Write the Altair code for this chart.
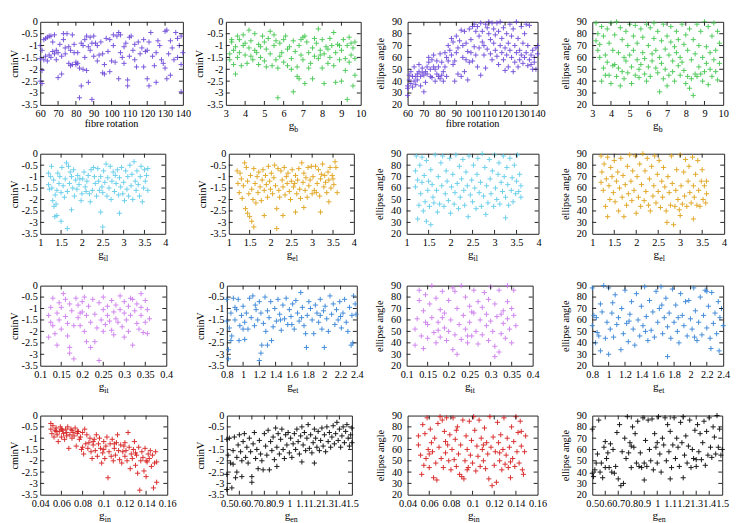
import altair as alt
import pandas as pd

FONT = "'Liberation Serif', 'Times New Roman', Times, 'DejaVu Serif', serif"
FRAME = "#222222"
PLUS = "M-1,0L1,0M0,-1L0,1"

# ---------------- tick values ----------------
CMIN_TICKS = [0, -0.5, -1, -1.5, -2, -2.5, -3, -3.5]
ELL_TICKS = [20, 30, 40, 50, 60, 70, 80, 90]
FIBRE_TICKS = [60, 70, 80, 90, 100, 110, 120, 130, 140]
GB_TICKS = [3, 4, 5, 6, 7, 8, 9, 10]
GIL_TICKS = [1, 1.5, 2, 2.5, 3, 3.5, 4]
GEL_TICKS = [1, 1.5, 2, 2.5, 3, 3.5, 4]
GIT_TICKS = [0.1, 0.15, 0.2, 0.25, 0.3, 0.35, 0.4]
GET_TICKS = [0.8, 1, 1.2, 1.4, 1.6, 1.8, 2, 2.2, 2.4]
GIN_TICKS = [0.04, 0.06, 0.08, 0.1, 0.12, 0.14, 0.16]
GEN_TICKS = [0.5, 0.6, 0.7, 0.8, 0.9, 1, 1.1, 1.2, 1.3, 1.4, 1.5]

# ---------------- colours ----------------
PURPLE = "#6a45d8"
GREEN = "#3ec64c"
CYAN = "#5ccbea"
ORANGE = "#dfa012"
VIOLET = "#cc78ee"
BLUE = "#2f80d5"
RED = "#d61a1a"
BLACK = "#000000"

# ---------------- data ----------------
fibre_cmin = [(60,-1.0),(60,-1.55),(60,-2.5),(61,-2.6),(61,-2.05),(61,-1.2),(62,-0.75),(62,-1.6),(63,-0.7),(63,-1.45),(64,-1.65),(64,-0.65),(65,-0.6),(65,-1.4),(66,-1.5),(66,-0.6),(67,-0.85),(67,-1.25),(68,-0.55),(68,-1.35),(69,-1.2),(69,-1.6),(70,-2.35),(70,-1.3),(71,-0.95),(72,-1.45),(72,-2.2),(73,-0.5),(73,-0.75),(74,-1.1),(74,-1.35),(75,-0.5),(76,-1.05),(76,-1.75),(77,-1.85),(77,-1.2),(78,-0.55),(78,-1.8),(79,-0.95),(79,-1.3),(80,-1.7),(80,-1.8),(81,-1.75),(81,-1.3),(82,-3.2),(82,-1.95),(83,-2.7),(83,-0.9),(84,-2.0),(84,-1.0),(85,-0.75),(85,-1.5),(86,-0.6),(86,-2.05),(87,-2.55),(87,-1.05),(88,-0.65),(88,-1.2),(89,-3.27),(89,-0.9),(90,-0.6),(90,-1.45),(91,-0.9),(92,-1.0),(92,-1.65),(93,-1.4),(94,-0.85),(95,-2.15),(95,-1.35),(96,-2.2),(96,-1.8),(97,-0.7),(98,-1.25),(99,-0.75),(99,-2.1),(100,-1.65),(101,-0.55),(101,-1.0),(102,-1.7),(103,-0.6),(104,-0.45),(104,-2.4),(105,-0.55),(105,-1.3),(106,-1.5),(107,-1.05),(107,-1.75),(108,-0.9),(109,-2.45),(109,-2.7),(110,-0.65),(110,-1.45),(111,-0.6),(112,-1.2),(113,-0.95),(113,-1.6),(114,-1.9),(115,-0.85),(116,-1.35),(117,-1.1),(118,-1.9),(118,-0.75),(119,-1.25),(120,-2.4),(120,-1.2),(121,-2.7),(121,-0.85),(122,-0.45),(123,-1.45),(124,-1.85),(125,-2.55),(125,-1.3),(126,-0.8),(127,-1.0),(128,-1.6),(129,-1.75),(130,-0.4),(130,-1.95),(131,-0.35),(131,-2.4),(132,-1.35),(133,-2.25),(133,-0.8),(134,-1.1),(135,-1.6),(136,-0.45),(137,-0.7),(137,-1.5),(138,-1.0),(139,-0.6),(139,-1.8),(139,-2.95),(140,-1.3)]

gb_cmin = [(3.2,-1.35),(3.2,-1.6),(3.3,-0.75),(3.3,-0.85),(3.4,-1.8),(3.4,-1.2),(3.5,-2.2),(3.5,-1.05),(3.6,-0.6),(3.6,-1.5),(3.7,-0.75),(3.7,-1.3),(3.8,-1.85),(3.9,-0.55),(3.9,-1.0),(4.0,-1.4),(4.0,-0.9),(4.1,-1.75),(4.2,-0.35),(4.2,-1.1),(4.3,-0.8),(4.3,-1.45),(4.4,-1.6),(4.5,-0.5),(4.5,-1.2),(4.6,-1.3),(4.7,-0.95),(4.7,-1.8),(4.8,-1.5),(4.8,-1.05),(4.9,-0.6),(5.0,-0.85),(5.0,-1.65),(5.1,-1.15),(5.1,-1.9),(5.2,-0.7),(5.3,-0.4),(5.3,-1.35),(5.4,-1.85),(5.5,-0.55),(5.5,-1.0),(5.6,-1.6),(5.6,-0.8),(5.7,-3.2),(5.7,-1.95),(5.8,-0.9),(5.8,-1.45),(5.9,-1.3),(6.0,-1.7),(6.0,-0.75),(6.1,-0.6),(6.2,-1.85),(6.2,-1.15),(6.3,-1.05),(6.4,-1.55),(6.4,-2.0),(6.5,-2.95),(6.5,-0.8),(6.6,-1.25),(6.7,-2.3),(6.7,-1.9),(6.8,-2.4),(6.8,-1.0),(6.9,-1.4),(6.9,-0.75),(7.0,-0.65),(7.0,-1.6),(7.1,-2.6),(7.1,-0.6),(7.2,-0.85),(7.3,-1.3),(7.3,-1.95),(7.4,-1.75),(7.5,-2.4),(7.5,-1.1),(7.6,-1.45),(7.6,-0.7),(7.7,-0.9),(7.8,-0.3),(7.8,-1.55),(7.9,-1.2),(7.9,-1.4),(8.0,-0.75),(8.0,-1.95),(8.1,-2.6),(8.1,-1.35),(8.2,-1.05),(8.3,-1.75),(8.3,-1.15),(8.4,-0.7),(8.4,-1.5),(8.5,-1.0),(8.6,-0.45),(8.6,-1.85),(8.7,-2.55),(8.7,-1.3),(8.8,-0.95),(8.9,-1.6),(8.9,-1.0),(9.0,-2.5),(9.0,-1.2),(9.1,-0.75),(9.2,-2.05),(9.2,-1.55),(9.3,-3.27),(9.3,-1.0),(9.4,-0.65),(9.4,-1.7),(9.5,-1.4),(9.5,-0.9),(9.6,-2.7),(9.6,-1.1),(9.7,-2.25),(9.7,-1.55),(9.7,-0.85)]

fibre_ell = [(60,28),(60,34),(60,36),(61,41),(61,45),(62,48),(62,38),(63,35),(63,44),(64,52),(64,40),(65,44),(65,37),(66,46),(66,41),(67,54),(67,48),(68,44),(68,36),(69,47),(69,51),(70,31),(70,45),(71,48),(71,39),(72,46),(72,52),(73,56),(73,60),(74,44),(74,50),(75,58),(75,43),(76,62),(76,52),(77,50),(77,40),(78,57),(78,46),(79,52),(79,44),(80,42),(80,63),(81,45),(81,56),(82,40),(82,48),(83,64),(83,52),(84,60),(84,44),(85,70),(85,57),(86,66),(87,76),(87,62),(88,54),(88,73),(89,57),(89,40),(90,64),(90,78),(91,68),(91,46),(92,74),(93,83),(93,44),(94,60),(94,70),(95,82),(95,48),(96,58),(96,72),(97,41),(97,65),(98,56),(98,84),(99,75),(99,64),(100,86),(100,57),(101,88),(101,69),(102,82),(102,62),(103,52),(103,86),(104,78),(104,68),(105,45),(105,89),(106,82),(106,73),(107,62),(107,70),(108,88),(108,51),(109,85),(109,67),(110,80),(110,90),(111,75),(111,63),(112,89),(112,58),(113,84),(113,72),(114,79),(114,66),(115,89),(115,61),(116,82),(116,54),(117,90),(117,70),(118,76),(118,64),(119,85),(119,58),(120,49),(120,68),(121,80),(121,62),(122,72),(122,52),(123,88),(123,66),(124,60),(124,78),(125,48),(125,84),(126,70),(126,56),(127,90),(127,64),(128,76),(128,52),(129,66),(129,58),(130,86),(130,62),(131,72),(131,55),(132,80),(132,60),(133,64),(133,88),(134,53),(134,70),(135,58),(135,87),(136,54),(136,62),(137,66),(137,50),(138,60),(138,56),(139,50),(139,68),(140,70),(140,63)]

gb_ell = [(3.2,74),(3.2,89),(3.3,66),(3.3,80),(3.4,60),(3.4,71),(3.5,40),(3.5,86),(3.6,51),(3.6,78),(3.7,45),(3.7,62),(3.8,84),(3.8,56),(3.9,45),(3.9,72),(4.0,38),(4.0,89),(4.1,53),(4.1,66),(4.2,54),(4.2,79),(4.3,44),(4.3,90),(4.4,64),(4.4,51),(4.5,36),(4.5,85),(4.6,75),(4.6,48),(4.7,42),(4.7,60),(4.8,82),(4.8,57),(4.9,70),(4.9,47),(5.0,88),(5.0,62),(5.1,52),(5.1,38),(5.2,78),(5.2,66),(5.3,45),(5.3,87),(5.4,58),(5.4,72),(5.5,50),(5.5,43),(5.6,84),(5.6,54),(5.7,64),(5.7,77),(5.8,46),(5.8,59),(5.9,88),(5.9,40),(6.0,70),(6.0,52),(6.1,85),(6.1,44),(6.2,63),(6.2,57),(6.3,76),(6.3,89),(6.4,51),(6.4,66),(6.5,82),(6.5,47),(6.6,31),(6.6,60),(6.7,74),(6.7,55),(6.8,88),(6.8,42),(6.9,67),(6.9,50),(7.0,36),(7.0,78),(7.1,62),(7.1,45),(7.2,73),(7.2,86),(7.3,57),(7.3,48),(7.4,69),(7.4,40),(7.5,64),(7.5,82),(7.6,53),(7.6,75),(7.7,60),(7.7,45),(7.8,88),(7.8,56),(7.9,71),(7.9,49),(8.0,79),(8.0,38),(8.1,44),(8.1,66),(8.2,34),(8.2,84),(8.3,58),(8.3,42),(8.4,28),(8.4,75),(8.5,46),(8.5,63),(8.6,88),(8.6,44),(8.7,52),(8.7,70),(8.8,46),(8.8,82),(8.9,60),(8.9,40),(9.0,90),(9.0,48),(9.1,69),(9.1,55),(9.2,37),(9.2,86),(9.3,64),(9.3,50),(9.4,78),(9.4,44),(9.5,58),(9.5,89),(9.6,66),(9.6,48),(9.7,82),(9.7,41),(9.8,72),(9.8,55)]

gil_cmin = [(1.2,-1.35),(1.2,-0.85),(1.22,-1.55),(1.25,-1.0),(1.27,-0.55),(1.28,-1.5),(1.3,-2.05),(1.32,-1.15),(1.33,-2.3),(1.35,-2.75),(1.36,-1.8),(1.38,-2.2),(1.4,-2.7),(1.4,-1.6),(1.42,-0.85),(1.45,-1.3),(1.47,-1.0),(1.5,-2.95),(1.5,-1.7),(1.52,-0.6),(1.55,-1.4),(1.58,-1.9),(1.6,-1.1),(1.63,-0.4),(1.65,-3.27),(1.65,-1.65),(1.68,-0.55),(1.7,-1.3),(1.72,-0.8),(1.75,-2.45),(1.75,-1.0),(1.78,-1.5),(1.8,-0.7),(1.82,-1.85),(1.85,-1.15),(1.88,-1.55),(1.9,-0.95),(1.93,-1.35),(1.95,-1.1),(1.98,-2.05),(2.0,-1.75),(2.02,-1.1),(2.05,-0.8),(2.08,-1.45),(2.1,-1.65),(2.12,-1.2),(2.15,-0.95),(2.18,-1.75),(2.2,-2.1),(2.22,-0.7),(2.25,-1.6),(2.28,-0.6),(2.3,-1.0),(2.32,-1.3),(2.35,-1.85),(2.38,-0.65),(2.4,-1.2),(2.42,-1.6),(2.45,-2.55),(2.45,-1.0),(2.48,-1.45),(2.5,-3.2),(2.5,-1.7),(2.52,-0.75),(2.55,-1.25),(2.58,-0.45),(2.6,-1.85),(2.62,-1.05),(2.65,-1.5),(2.68,-0.55),(2.7,-2.0),(2.72,-1.2),(2.75,-0.8),(2.78,-1.65),(2.8,-0.95),(2.82,-1.3),(2.85,-0.7),(2.88,-1.8),(2.9,-2.6),(2.9,-1.05),(2.93,-1.45),(2.95,-0.6),(2.98,-1.75),(3.0,-1.25),(3.02,-2.05),(3.05,-0.75),(3.08,-1.55),(3.1,-1.0),(3.12,-1.85),(3.15,-0.5),(3.18,-1.4),(3.2,-0.9),(3.22,-2.0),(3.25,-0.35),(3.28,-1.2),(3.3,-1.6),(3.32,-0.75),(3.35,-1.35),(3.38,-1.85),(3.4,-1.0),(3.42,-0.55),(3.45,-2.1),(3.48,-1.5),(3.5,-0.7),(3.52,-1.2),(3.55,-0.95),(3.58,-0.65),(3.58,-1.6)]

gel_cmin = [(1.2,-0.75),(1.22,-1.3),(1.25,-1.7),(1.27,-0.85),(1.3,-1.1),(1.32,-1.95),(1.35,-1.4),(1.38,-0.4),(1.4,-2.4),(1.42,-0.6),(1.45,-2.6),(1.45,-1.2),(1.48,-1.75),(1.5,-2.75),(1.52,-0.95),(1.55,-2.95),(1.55,-1.55),(1.58,-2.0),(1.6,-3.2),(1.6,-0.65),(1.63,-1.3),(1.65,-2.15),(1.68,-1.0),(1.7,-1.7),(1.72,-0.8),(1.75,-1.45),(1.78,-2.05),(1.8,-1.15),(1.82,-0.7),(1.85,-2.7),(1.85,-1.6),(1.88,-0.95),(1.9,-1.35),(1.93,-1.9),(1.95,-0.55),(1.98,-1.2),(2.0,-1.55),(2.02,-0.85),(2.05,-1.75),(2.08,-1.05),(2.1,-0.5),(2.12,-1.4),(2.15,-3.27),(2.15,-2.4),(2.18,-0.65),(2.2,-1.6),(2.22,-1.9),(2.25,-0.75),(2.28,-1.15),(2.3,-2.7),(2.3,-1.45),(2.33,-0.6),(2.35,-1.8),(2.38,-1.0),(2.4,-1.3),(2.42,-0.85),(2.45,-1.65),(2.48,-2.0),(2.5,-1.2),(2.52,-0.7),(2.55,-1.45),(2.58,-1.3),(2.6,-2.55),(2.6,-0.95),(2.63,-1.75),(2.65,-1.15),(2.68,-0.65),(2.7,-1.55),(2.72,-1.95),(2.75,-0.4),(2.78,-1.25),(2.8,-2.35),(2.8,-0.85),(2.83,-1.6),(2.85,-1.05),(2.88,-1.9),(2.9,-0.6),(2.92,-1.4),(2.95,-1.15),(2.98,-0.55),(3.0,-1.75),(3.02,-1.0),(3.05,-1.6),(3.08,-0.55),(3.1,-1.7),(3.12,-1.3),(3.15,-0.7),(3.18,-1.85),(3.2,-2.55),(3.2,-1.1),(3.22,-0.9),(3.25,-0.45),(3.28,-1.45),(3.3,-0.95),(3.32,-1.25),(3.35,-1.7),(3.38,-0.8),(3.4,-2.1),(3.4,-1.15),(3.43,-0.6),(3.45,-1.5),(3.48,-0.95),(3.5,-1.1),(3.52,-1.35),(3.55,-0.35),(3.57,-0.6),(3.6,-1.7)]

gil_ell = [(1.2,61),(1.2,75),(1.22,88),(1.25,67),(1.25,33),(1.28,45),(1.3,80),(1.32,55),(1.35,65),(1.35,87),(1.38,40),(1.4,71),(1.42,48),(1.45,31),(1.45,84),(1.48,58),(1.5,66),(1.52,44),(1.55,28),(1.55,76),(1.58,63),(1.6,52),(1.62,47),(1.65,89),(1.68,58),(1.7,39),(1.72,70),(1.75,46),(1.78,82),(1.8,62),(1.82,88),(1.85,44),(1.88,55),(1.9,75),(1.92,66),(1.95,49),(1.98,86),(2.0,38),(2.02,61),(2.05,72),(2.08,46),(2.1,56),(2.12,89),(2.15,64),(2.18,42),(2.2,79),(2.22,52),(2.25,68),(2.28,85),(2.3,58),(2.32,45),(2.35,74),(2.38,62),(2.4,35),(2.42,88),(2.45,54),(2.48,67),(2.5,48),(2.52,80),(2.55,60),(2.58,42),(2.6,72),(2.62,86),(2.65,56),(2.68,65),(2.7,44),(2.72,90),(2.75,53),(2.78,78),(2.8,37),(2.82,62),(2.85,47),(2.88,85),(2.9,68),(2.92,55),(2.95,75),(2.98,44),(3.0,89),(3.02,60),(3.05,50),(3.08,72),(3.1,82),(3.12,46),(3.15,65),(3.18,57),(3.2,88),(3.22,70),(3.25,34),(3.25,52),(3.28,78),(3.3,63),(3.32,45),(3.35,86),(3.38,58),(3.4,69),(3.42,48),(3.45,80),(3.48,55),(3.5,66),(3.52,89),(3.55,57),(3.57,72),(3.6,52),(3.6,62)]

gel_ell = [(1.2,88),(1.2,65),(1.22,74),(1.25,58),(1.27,81),(1.3,44),(1.32,68),(1.35,35),(1.35,87),(1.38,62),(1.4,50),(1.42,78),(1.45,70),(1.48,56),(1.5,84),(1.52,48),(1.55,66),(1.58,74),(1.6,40),(1.62,60),(1.65,86),(1.68,52),(1.7,71),(1.72,35),(1.75,63),(1.78,45),(1.8,79),(1.82,55),(1.85,89),(1.88,66),(1.9,49),(1.92,75),(1.95,58),(1.98,88),(2.0,38),(2.02,70),(2.05,52),(2.08,81),(2.1,44),(2.12,63),(2.15,90),(2.18,49),(2.2,75),(2.22,57),(2.25,86),(2.28,45),(2.3,68),(2.32,40),(2.35,79),(2.38,53),(2.4,62),(2.42,88),(2.45,47),(2.48,72),(2.5,57),(2.52,84),(2.55,43),(2.58,66),(2.6,52),(2.62,78),(2.65,61),(2.68,40),(2.7,30),(2.72,70),(2.75,56),(2.78,45),(2.8,88),(2.82,64),(2.85,28),(2.88,44),(2.9,58),(2.92,76),(2.95,50),(2.98,41),(3.0,36),(3.0,89),(3.02,62),(3.05,46),(3.08,74),(3.1,53),(3.12,85),(3.15,44),(3.18,66),(3.2,79),(3.22,56),(3.25,47),(3.28,87),(3.3,33),(3.3,62),(3.32,52),(3.35,72),(3.38,45),(3.4,84),(3.42,58),(3.45,44),(3.48,66),(3.5,76),(3.52,50),(3.55,62),(3.58,47),(3.6,55),(3.6,66)]

git_cmin = [(0.12,-2.25),(0.12,-1.3),(0.125,-0.95),(0.125,-1.6),(0.13,-1.75),(0.13,-0.55),(0.135,-2.1),(0.14,-1.2),(0.14,-2.6),(0.145,-1.5),(0.145,-0.75),(0.15,-1.9),(0.15,-0.95),(0.155,-0.35),(0.16,-1.35),(0.16,-0.6),(0.165,-1.65),(0.165,-2.2),(0.17,-2.95),(0.17,-0.8),(0.17,-2.7),(0.175,-1.1),(0.18,-3.2),(0.18,-1.75),(0.185,-0.55),(0.19,-1.4),(0.19,-0.85),(0.195,-1.75),(0.195,-1.2),(0.2,-1.15),(0.2,-0.7),(0.205,-2.0),(0.205,-0.5),(0.21,-2.45),(0.21,-1.3),(0.215,-0.9),(0.22,-1.6),(0.22,-2.7),(0.225,-0.6),(0.23,-2.45),(0.23,-1.25),(0.235,-1.85),(0.24,-3.27),(0.24,-0.75),(0.245,-1.5),(0.25,-1.05),(0.25,-0.5),(0.25,-2.0),(0.255,-1.7),(0.26,-1.3),(0.26,-0.9),(0.265,-1.55),(0.27,-0.65),(0.27,-1.95),(0.275,-1.15),(0.275,-2.15),(0.28,-1.45),(0.28,-0.85),(0.285,-1.6),(0.29,-0.45),(0.29,-1.05),(0.295,-1.8),(0.3,-1.2),(0.3,-0.7),(0.3,-2.25),(0.305,-1.5),(0.31,-0.9),(0.31,-2.0),(0.315,-1.3),(0.315,-0.55),(0.32,-2.6),(0.32,-0.6),(0.325,-1.1),(0.33,-1.65),(0.33,-0.8),(0.335,-1.9),(0.34,-0.35),(0.34,-1.3),(0.34,-0.95),(0.345,-2.05),(0.35,-0.65),(0.35,-1.6),(0.355,-1.05),(0.355,-2.1),(0.36,-1.45)]

get_cmin = [(0.8,-0.6),(0.8,-1.55),(0.82,-3.2),(0.82,-2.8),(0.83,-1.85),(0.85,-2.4),(0.85,-1.2),(0.86,-2.2),(0.88,-0.55),(0.9,-1.5),(0.9,-0.95),(0.92,-1.05),(0.94,-0.6),(0.95,-2.4),(0.96,-1.75),(0.98,-1.3),(1.0,-0.9),(1.0,-1.9),(1.02,-2.35),(1.02,-1.6),(1.04,-1.2),(1.06,-1.9),(1.08,-0.55),(1.1,-1.4),(1.12,-0.45),(1.14,-1.75),(1.15,-0.85),(1.16,-1.05),(1.18,-1.5),(1.2,-3.27),(1.2,-0.7),(1.22,-2.95),(1.22,-1.2),(1.23,-2.6),(1.25,-1.65),(1.27,-0.5),(1.28,-2.0),(1.3,-2.6),(1.3,-1.1),(1.32,-1.4),(1.34,-0.7),(1.35,-2.4),(1.37,-1.8),(1.39,-1.0),(1.41,-1.55),(1.43,-0.6),(1.45,-1.25),(1.46,-1.5),(1.47,-1.95),(1.49,-0.85),(1.51,-1.45),(1.53,-0.55),(1.55,-1.7),(1.57,-1.05),(1.59,-1.35),(1.6,-1.7),(1.61,-0.8),(1.63,-1.9),(1.65,-0.65),(1.67,-1.2),(1.69,-1.55),(1.71,-0.3),(1.72,-1.4),(1.73,-0.95),(1.75,-1.75),(1.77,-2.1),(1.78,-2.7),(1.79,-1.3),(1.81,-0.7),(1.83,-1.0),(1.85,-1.5),(1.87,-2.1),(1.89,-0.85),(1.91,-1.2),(1.93,-1.6),(1.95,-0.6),(1.95,-1.3),(1.97,-1.9),(1.99,-1.1),(2.0,-2.7),(2.01,-0.9),(2.03,-1.45),(2.05,-2.0),(2.07,-0.45),(2.09,-1.25),(2.11,-0.8),(2.13,-1.7),(2.15,-1.05),(2.17,-1.5),(2.19,-0.7),(2.2,-1.35),(2.21,-1.85),(2.23,-1.2),(2.25,-0.6),(2.27,-1.6),(2.29,-2.0),(2.31,-0.95),(2.33,-2.6),(2.34,-1.3),(2.35,-2.5),(2.36,-0.45),(2.38,-0.8),(2.39,-1.25)]

git_ell = [(0.12,38),(0.12,52),(0.125,61),(0.13,77),(0.13,86),(0.135,46),(0.14,35),(0.14,68),(0.145,82),(0.145,58),(0.15,56),(0.15,44),(0.155,74),(0.16,90),(0.16,62),(0.165,49),(0.17,79),(0.17,40),(0.175,58),(0.175,51),(0.18,69),(0.18,45),(0.185,85),(0.185,62),(0.19,53),(0.19,66),(0.195,42),(0.2,77),(0.2,50),(0.205,60),(0.21,34),(0.21,88),(0.215,47),(0.215,85),(0.22,30),(0.22,70),(0.225,56),(0.23,90),(0.23,43),(0.235,64),(0.24,52),(0.24,80),(0.245,40),(0.245,46),(0.25,72),(0.25,58),(0.255,46),(0.255,67),(0.26,86),(0.26,66),(0.265,50),(0.27,76),(0.27,39),(0.275,60),(0.28,71),(0.28,47),(0.285,84),(0.29,55),(0.29,65),(0.295,42),(0.295,78),(0.3,89),(0.3,59),(0.305,50),(0.31,28),(0.31,37),(0.31,74),(0.315,63),(0.32,32),(0.32,86),(0.325,48),(0.325,65),(0.33,68),(0.33,57),(0.335,44),(0.34,90),(0.34,61),(0.34,76),(0.345,52),(0.35,70),(0.35,40),(0.355,86),(0.355,64),(0.36,55)]

get_ell = [(0.8,88),(0.8,55),(0.82,64),(0.84,40),(0.85,62),(0.86,49),(0.88,46),(0.9,33),(0.9,74),(0.92,67),(0.94,90),(0.96,44),(0.98,58),(1.0,30),(1.0,88),(1.02,52),(1.04,66),(1.05,75),(1.06,45),(1.08,82),(1.1,56),(1.12,62),(1.15,34),(1.16,70),(1.18,48),(1.2,86),(1.22,57),(1.24,41),(1.25,59),(1.26,65),(1.28,76),(1.3,52),(1.32,38),(1.34,83),(1.36,60),(1.38,46),(1.4,72),(1.42,55),(1.44,89),(1.45,50),(1.46,63),(1.48,42),(1.5,77),(1.52,51),(1.54,67),(1.56,45),(1.58,85),(1.6,58),(1.62,70),(1.64,89),(1.65,73),(1.66,48),(1.68,62),(1.7,79),(1.72,28),(1.72,54),(1.74,66),(1.76,44),(1.78,87),(1.8,58),(1.82,73),(1.84,50),(1.85,62),(1.86,40),(1.88,83),(1.9,64),(1.92,55),(1.94,76),(1.96,46),(1.98,77),(2.0,61),(2.02,52),(2.04,88),(2.05,45),(2.06,68),(2.08,42),(2.1,58),(2.12,80),(2.14,47),(2.16,64),(2.18,86),(2.2,53),(2.2,85),(2.22,72),(2.24,44),(2.25,35),(2.26,84),(2.28,57),(2.3,66),(2.32,48),(2.34,76),(2.35,33),(2.36,62),(2.38,70),(2.4,55)]

gin_cmin = [(0.05,-0.35),(0.05,-0.6),(0.051,-0.8),(0.052,-0.45),(0.053,-0.95),(0.054,-0.65),(0.055,-0.55),(0.055,-0.7),(0.056,-0.85),(0.057,-1.15),(0.058,-0.7),(0.059,-0.5),(0.06,-0.95),(0.06,-0.6),(0.061,-0.65),(0.062,-0.8),(0.063,-1.05),(0.064,-0.6),(0.065,-0.75),(0.065,-0.9),(0.066,-0.5),(0.067,-1.45),(0.068,-0.85),(0.069,-0.6),(0.07,-1.0),(0.07,-0.65),(0.071,-0.75),(0.072,-0.9),(0.073,-0.55),(0.074,-1.35),(0.075,-0.8),(0.075,-0.7),(0.076,-0.7),(0.077,-1.05),(0.078,-0.95),(0.079,-1.5),(0.08,-0.75),(0.08,-1.4),(0.081,-1.7),(0.082,-0.6),(0.083,-1.25),(0.084,-0.85),(0.085,-1.45),(0.086,-1.2),(0.087,-1.0),(0.088,-1.6),(0.089,-1.9),(0.09,-1.3),(0.09,-1.15),(0.091,-1.05),(0.092,-1.55),(0.093,-0.85),(0.094,-1.8),(0.095,-1.25),(0.096,-1.0),(0.097,-1.45),(0.098,-2.1),(0.099,-1.65),(0.1,-1.15),(0.1,-1.5),(0.101,-1.9),(0.102,-1.35),(0.103,-0.95),(0.104,-2.75),(0.105,-1.6),(0.106,-1.25),(0.107,-1.8),(0.108,-1.05),(0.109,-2.0),(0.11,-1.45),(0.11,-1.25),(0.111,-1.75),(0.112,-1.2),(0.113,-0.85),(0.114,-1.55),(0.115,-1.95),(0.116,-1.3),(0.117,-2.1),(0.118,-1.6),(0.119,-1.35),(0.12,-1.8),(0.12,-1.2),(0.121,-1.55),(0.122,-2.0),(0.123,-0.75),(0.124,-1.4),(0.125,-2.35),(0.126,-1.7),(0.127,-1.9),(0.128,-1.5),(0.129,-1.15),(0.13,-2.2),(0.13,-1.65),(0.131,-1.75),(0.132,-2.55),(0.133,-1.4),(0.134,-3.3),(0.135,-2.0),(0.136,-1.6),(0.137,-1.85),(0.138,-2.45),(0.139,-1.45),(0.14,-2.7),(0.14,-2.0),(0.141,-2.05),(0.142,-1.7),(0.143,-1.9),(0.144,-1.55),(0.145,-2.25),(0.146,-1.75),(0.147,-3.2),(0.148,-2.1),(0.149,-1.6),(0.15,-2.95),(0.15,-2.05)]

gen_cmin = [(0.5,-1.05),(0.5,-2.6),(0.5,-3.27),(0.51,-1.75),(0.52,-1.0),(0.53,-2.1),(0.54,-3.2),(0.55,-1.55),(0.55,-2.15),(0.56,-0.95),(0.57,-2.75),(0.58,-1.85),(0.58,-2.5),(0.59,-1.3),(0.6,-0.85),(0.61,-1.6),(0.62,-2.0),(0.62,-2.7),(0.63,-1.15),(0.64,-0.8),(0.65,-1.85),(0.66,-1.4),(0.67,-2.1),(0.68,-1.0),(0.69,-1.6),(0.7,-2.7),(0.7,-2.95),(0.71,-1.25),(0.72,-0.75),(0.73,-1.9),(0.74,-1.5),(0.75,-2.35),(0.76,-1.1),(0.77,-1.7),(0.78,-2.0),(0.79,-2.4),(0.8,-0.8),(0.81,-1.35),(0.82,-1.75),(0.83,-0.65),(0.84,-2.4),(0.85,-1.15),(0.86,-1.55),(0.87,-0.95),(0.88,-1.95),(0.89,-0.55),(0.9,-1.4),(0.9,-2.25),(0.91,-0.8),(0.92,-1.7),(0.93,-1.05),(0.94,-0.6),(0.95,-1.5),(0.96,-1.9),(0.97,-0.85),(0.98,-1.3),(0.99,-0.75),(1.0,-1.65),(1.01,-1.0),(1.02,-1.85),(1.03,-1.25),(1.04,-0.8),(1.05,-1.5),(1.06,-0.6),(1.07,-1.15),(1.08,-1.7),(1.09,-0.9),(1.1,-2.05),(1.1,-0.5),(1.11,-1.3),(1.12,-0.75),(1.13,-1.55),(1.14,-1.0),(1.15,-0.4),(1.16,-1.45),(1.17,-0.85),(1.18,-1.65),(1.19,-1.2),(1.2,-2.1),(1.2,-0.6),(1.21,-1.0),(1.22,-1.4),(1.23,-0.7),(1.24,-1.55),(1.25,-1.1),(1.26,-0.55),(1.27,-1.35),(1.28,-0.85),(1.29,-1.6),(1.3,-0.5),(1.31,-1.15),(1.32,-0.75),(1.33,-1.4),(1.34,-0.95),(1.35,-0.45),(1.36,-1.25),(1.37,-0.8),(1.38,-0.3),(1.39,-1.1),(1.4,-0.6),(1.41,-1.4),(1.42,-0.9),(1.43,-0.5),(1.44,-1.2),(1.45,-0.7),(1.46,-0.4),(1.47,-1.0),(1.48,-1.35),(1.49,-0.85),(1.5,-0.55),(1.5,-1.2)]

gin_ell = [(0.05,64),(0.05,72),(0.052,55),(0.053,38),(0.054,82),(0.055,46),(0.056,74),(0.057,52),(0.058,88),(0.059,60),(0.06,44),(0.06,56),(0.061,78),(0.062,66),(0.063,58),(0.064,35),(0.065,70),(0.066,48),(0.067,33),(0.068,83),(0.069,62),(0.07,89),(0.071,52),(0.072,86),(0.073,44),(0.074,76),(0.075,57),(0.075,67),(0.076,88),(0.077,64),(0.078,50),(0.079,73),(0.08,42),(0.081,60),(0.082,88),(0.083,51),(0.084,69),(0.085,45),(0.085,77),(0.086,80),(0.087,56),(0.088,38),(0.089,64),(0.09,36),(0.091,86),(0.092,34),(0.093,50),(0.094,72),(0.095,60),(0.095,42),(0.096,44),(0.097,85),(0.098,55),(0.099,68),(0.1,48),(0.101,89),(0.102,77),(0.103,41),(0.104,63),(0.105,54),(0.106,86),(0.107,45),(0.108,70),(0.109,60),(0.11,50),(0.11,64),(0.111,79),(0.112,43),(0.113,66),(0.114,56),(0.115,34),(0.116,89),(0.117,62),(0.118,28),(0.119,71),(0.12,46),(0.121,58),(0.122,31),(0.123,84),(0.124,66),(0.125,50),(0.125,57),(0.126,73),(0.127,42),(0.128,60),(0.129,88),(0.13,47),(0.131,55),(0.132,70),(0.133,44),(0.134,62),(0.135,35),(0.135,49),(0.136,80),(0.137,52),(0.138,67),(0.139,45),(0.14,89),(0.141,58),(0.142,75),(0.143,48),(0.144,85),(0.145,63),(0.145,76),(0.146,42),(0.147,38),(0.148,58),(0.149,72)]

gen_ell = [(0.5,39),(0.5,78),(0.51,36),(0.52,42),(0.53,48),(0.54,56),(0.55,86),(0.56,40),(0.57,48),(0.58,35),(0.59,62),(0.6,67),(0.6,44),(0.61,52),(0.62,57),(0.63,44),(0.64,65),(0.65,40),(0.66,60),(0.67,39),(0.68,45),(0.69,75),(0.7,34),(0.71,82),(0.72,28),(0.73,58),(0.74,30),(0.75,70),(0.76,52),(0.77,89),(0.78,57),(0.79,66),(0.8,44),(0.8,63),(0.81,80),(0.82,62),(0.83,74),(0.84,48),(0.85,85),(0.86,45),(0.87,57),(0.88,44),(0.89,88),(0.9,33),(0.9,48),(0.91,68),(0.92,45),(0.93,86),(0.94,60),(0.95,50),(0.96,87),(0.97,42),(0.98,74),(0.99,62),(1.0,48),(1.0,66),(1.01,89),(1.02,56),(1.03,40),(1.04,70),(1.05,64),(1.06,88),(1.07,50),(1.08,82),(1.09,58),(1.1,34),(1.1,76),(1.11,44),(1.12,64),(1.13,88),(1.14,52),(1.15,70),(1.16,62),(1.17,45),(1.18,84),(1.19,66),(1.2,35),(1.2,89),(1.21,55),(1.22,72),(1.23,48),(1.24,63),(1.25,86),(1.26,44),(1.27,60),(1.28,52),(1.29,77),(1.3,45),(1.3,51),(1.31,82),(1.32,58),(1.33,74),(1.34,51),(1.35,66),(1.36,85),(1.37,46),(1.38,76),(1.39,55),(1.4,88),(1.41,62),(1.42,53),(1.43,80),(1.44,71),(1.45,56),(1.46,90),(1.47,62),(1.48,78),(1.49,55),(1.5,60)]

TICK = 4
LFS = 10.5
TFS = 10.5


def panel(pts, color, xticks, yticks, xtitle, ytitle, W, H, A, B, T, D):
    ell = ytitle.startswith("ellipse")
    xs = alt.Scale(domain=[min(xticks), max(xticks)], nice=False, zero=False)
    ys = alt.Scale(domain=[min(yticks), max(yticks)], nice=False, zero=False)
    xaxis = alt.Axis(values=xticks, title=None, labelExpr="'' + datum.value", labelPadding=4)
    yaxis = alt.Axis(values=yticks, title=ytitle, labelExpr="'' + datum.value",
                     labelPadding=6 if ell else 3, titlePadding=6 if ell else 2)
    X = alt.X("x:Q", scale=xs, axis=xaxis)
    Y = alt.Y("y:Q", scale=ys, axis=yaxis)
    df = pd.DataFrame(pts, columns=["x", "y"])
    layers = []
    layers.append(
        alt.Chart(df).mark_point(shape=PLUS, filled=False, size=28, strokeWidth=1,
                                 color=color, opacity=0.9).encode(x=X, y=Y)
    )
    xt = pd.DataFrame({"x": xticks[1:-1]})
    yt = pd.DataFrame({"y": sorted(yticks)[1:-1]})
    layers.append(alt.Chart(xt).mark_rule(color=FRAME, strokeWidth=1).encode(
        x=X, y=alt.value(H - TICK), y2=alt.value(H)))
    layers.append(alt.Chart(xt).mark_rule(color=FRAME, strokeWidth=1).encode(
        x=X, y=alt.value(0), y2=alt.value(TICK)))
    layers.append(alt.Chart(yt).mark_rule(color=FRAME, strokeWidth=1).encode(
        y=Y, x=alt.value(0), x2=alt.value(TICK)))
    layers.append(alt.Chart(yt).mark_rule(color=FRAME, strokeWidth=1).encode(
        y=Y, x=alt.value(W - TICK), x2=alt.value(W)))
    # x-axis title (gnuplot style, with subscript)
    if isinstance(xtitle, tuple):
        main, sub = xtitle
        layers.append(alt.Chart(pd.DataFrame({"t": [main]})).mark_text(
            font=FONT, fontSize=11.5, align="right", baseline="middle", color="black").encode(
            x=alt.value(W / 2 + 1), y=alt.value(H + 22), text="t:N"))
        layers.append(alt.Chart(pd.DataFrame({"t": [sub]})).mark_text(
            font=FONT, fontSize=8, align="left", baseline="middle", color="black").encode(
            x=alt.value(W / 2 + 1), y=alt.value(H + 25.5), text="t:N"))
    else:
        layers.append(alt.Chart(pd.DataFrame({"t": [xtitle]})).mark_text(
            font=FONT, fontSize=TFS, align="center", baseline="middle", color="black").encode(
            x=alt.value(W / 2), y=alt.value(H + 20), text="t:N"))
    # invisible anchors fixing the panel's layout bounds
    one = pd.DataFrame({"k": [0]})
    layers.append(alt.Chart(one).mark_rule(color="white", strokeWidth=1).encode(
        x=alt.value(-A), x2=alt.value(-A), y=alt.value(-T), y2=alt.value(-T)))
    right = W + B if B is not None else W
    layers.append(alt.Chart(one).mark_rule(color="white", strokeWidth=1).encode(
        x=alt.value(right), x2=alt.value(right), y=alt.value(H + D), y2=alt.value(H + D)))
    return alt.layer(*layers).properties(width=W, height=H)


T0 = 7
rows = []
# row 1
rows.append(alt.hconcat(
    panel(fibre_cmin, PURPLE, FIBRE_TICKS, CMIN_TICKS, "fibre rotation", "cminV", 146, 85, 30, 10, T0, 41),
    panel(gb_cmin, GREEN, GB_TICKS, CMIN_TICKS, ("g", "b"), "cminV", 138, 85, 32, 10, T0, 41),
    panel(fibre_ell, PURPLE, FIBRE_TICKS, ELL_TICKS, "fibre rotation", "ellipse angle", 133, 85, 36, 10, T0, 41),
    panel(gb_ell, GREEN, GB_TICKS, ELL_TICKS, ("g", "b"), "ellipse angle", 134, 85, 44, None, T0, 41),
    spacing=0))
# row 2
rows.append(alt.hconcat(
    panel(gil_cmin, CYAN, GIL_TICKS, CMIN_TICKS, ("g", "il"), "cminV", 128, 82, 30, 10, T0, 44),
    panel(gel_cmin, ORANGE, GEL_TICKS, CMIN_TICKS, ("g", "el"), "cminV", 128, 82, 53, 10, T0, 44),
    panel(gil_ell, CYAN, GIL_TICKS, ELL_TICKS, ("g", "il"), "ellipse angle", 135, 82, 42, 10, T0, 44),
    panel(gel_ell, ORANGE, GEL_TICKS, ELL_TICKS, ("g", "el"), "ellipse angle", 135, 82, 43, None, T0, 44),
    spacing=0))
# row 3
rows.append(alt.hconcat(
    panel(git_cmin, VIOLET, GIT_TICKS, CMIN_TICKS, ("g", "it"), "cminV", 129, 82, 30, 10, T0, 42),
    panel(get_cmin, BLUE, GET_TICKS, CMIN_TICKS, ("g", "et"), "cminV", 133, 82, 50, 10, T0, 42),
    panel(git_ell, VIOLET, GIT_TICKS, ELL_TICKS, ("g", "it"), "ellipse angle", 129, 82, 39, 10, T0, 42),
    panel(get_ell, BLUE, GET_TICKS, ELL_TICKS, ("g", "et"), "ellipse angle", 134, 82, 49, None, T0, 42),
    spacing=0))
# row 4
rows.append(alt.hconcat(
    panel(gin_cmin, RED, GIN_TICKS, CMIN_TICKS, ("g", "in"), "cminV", 130, 81, 30, 10, T0, 30),
    panel(gen_cmin, BLACK, GEN_TICKS, CMIN_TICKS, ("g", "en"), "cminV", 128, 81, 49, 10, T0, 30),
    panel(gin_ell, RED, GIN_TICKS, ELL_TICKS, ("g", "in"), "ellipse angle", 133, 81, 45, 10, T0, 30),
    panel(gen_ell, BLACK, GEN_TICKS, ELL_TICKS, ("g", "en"), "ellipse angle", 133, 81, 44, None, T0, 30),
    spacing=0))

chart = alt.vconcat(*rows, spacing=0).properties(
    padding={"left": 0, "top": 0, "right": 0, "bottom": 0}
).configure_view(
    stroke=FRAME, strokeWidth=1
).configure_concat(spacing=0).configure_axis(
    labelFont=FONT, labelFontSize=LFS, labelColor="black",
    titleFont=FONT, titleFontSize=TFS, titleFontWeight="normal", titleColor="black",
    ticks=False, domain=False, grid=False, labelFlush=False, labelOverlap=False,
).configure_text(font=FONT)

chart.save("out.html", embed_options={"renderer": "svg", "actions": False})
